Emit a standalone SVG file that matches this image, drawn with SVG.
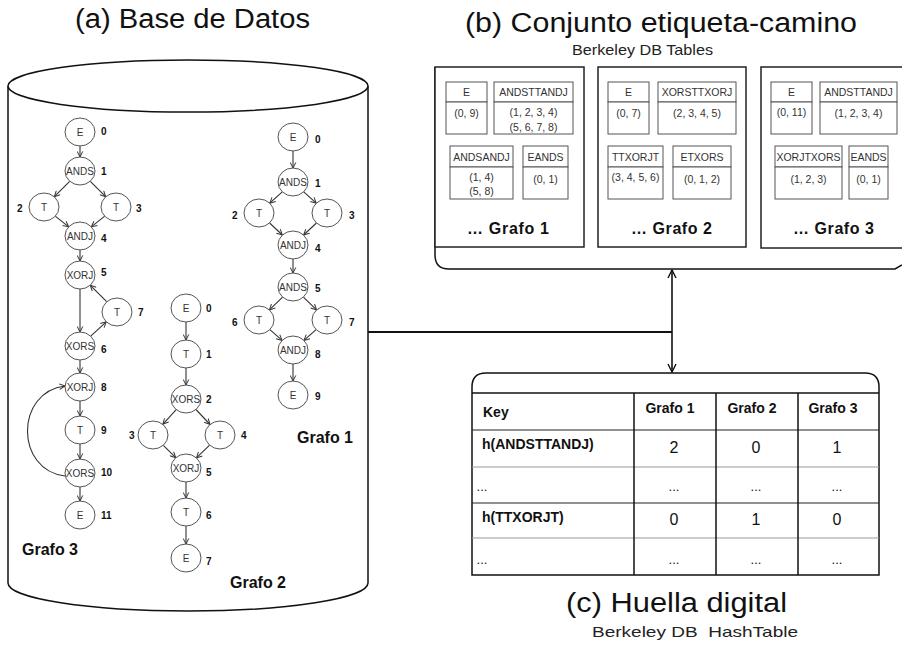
<svg xmlns="http://www.w3.org/2000/svg" width="902" height="646" viewBox="0 0 902 646">
<style>
text{font-family:"Liberation Sans",Arial,sans-serif;fill:#111}
.title{font-size:27px}
.sub{font-size:15px;fill:#222}
.nd ellipse{fill:#fff;stroke:#555;stroke-width:1}
.nd text{font-size:10px;fill:#333;text-anchor:middle;dominant-baseline:central}
.num{font-size:10px;font-weight:bold;dominant-baseline:central}
.gl{font-size:16px;font-weight:bold}
.e line,.e path{stroke:#333;stroke-width:1.1;fill:none;marker-end:url(#ah)}
.tb rect{fill:#fff;stroke:#555;stroke-width:1}
.tb text{font-size:10.5px;fill:#333;text-anchor:middle;dominant-baseline:central}
.box{fill:#fff;stroke:#222;stroke-width:1.5}
.ht{font-size:14px;font-weight:bold}
.hv{font-size:16px;text-anchor:middle;dominant-baseline:central}
.hd{font-size:13px;text-anchor:middle;dominant-baseline:central}
</style>
<defs>
<marker id="ah" viewBox="0 0 10 10" refX="9" refY="5" markerWidth="7" markerHeight="7" markerUnits="userSpaceOnUse" orient="auto"><path d="M1,1 L9,5 L1,9" fill="none" stroke="#333" stroke-width="1.4"/></marker>
<marker id="ah2" viewBox="0 0 10 10" refX="9" refY="5" markerWidth="10" markerHeight="10" markerUnits="userSpaceOnUse" orient="auto-start-reverse"><path d="M1,1 L9,5 L1,9" fill="none" stroke="#111" stroke-width="1.4"/></marker>
</defs>
<rect width="902" height="646" fill="#fff"/>

<!-- titles -->
<text class="title" x="75" y="28" textLength="235" lengthAdjust="spacingAndGlyphs">(a) Base de Datos</text>
<text class="title" x="465" y="32" textLength="392" lengthAdjust="spacingAndGlyphs">(b) Conjunto etiqueta-camino</text>
<text class="sub" x="572" y="55" textLength="141" lengthAdjust="spacingAndGlyphs">Berkeley DB Tables</text>
<text class="title" x="566" y="612" textLength="221" lengthAdjust="spacingAndGlyphs">(c) Huella digital</text>
<text class="sub" x="592" y="637" textLength="206" lengthAdjust="spacingAndGlyphs" xml:space="preserve">Berkeley DB  HashTable</text>

<!-- (a) cylinder -->
<g id="database">
<path d="M8,86 L8,583 A180,28 0 0 0 368,583 L368,86" fill="#fff" stroke="#111" stroke-width="1.5"/>
<ellipse cx="188" cy="86" rx="180" ry="26" fill="#fff" stroke="#111" stroke-width="1.5"/>
</g>

<!-- (b) tray and boxes -->
<g id="tables">
<path d="M435,67 V255 Q435,269 449,269 H895 L902,265" fill="none" stroke="#111" stroke-width="1.5"/>
<rect class="box" x="435" y="67" width="149" height="180"/>
<rect class="box" x="598" y="67" width="148" height="180"/>
<rect class="box" x="761" y="67" width="150" height="181"/>
</g>

<g id="g1-tables" class="tb">
<rect x="446" y="82" width="41" height="20"/><rect x="446" y="102" width="41" height="32"/>
<text x="466.5" y="92">E</text><text x="466.5" y="113">(0, 9)</text>
<rect x="494" y="82" width="79" height="20"/><rect x="494" y="102" width="79" height="32"/>
<text x="533.5" y="92">ANDSTTANDJ</text><text x="533.5" y="112">(1, 2, 3, 4)</text><text x="533.5" y="127">(5, 6, 7, 8)</text>
<rect x="450" y="146" width="63" height="21"/><rect x="450" y="167" width="63" height="32"/>
<text x="481.5" y="156.5">ANDSANDJ</text><text x="481.5" y="177">(1, 4)</text><text x="481.5" y="191">(5, 8)</text>
<rect x="523" y="146" width="45" height="21"/><rect x="523" y="167" width="45" height="32"/>
<text x="545.5" y="156.5">EANDS</text><text x="545.5" y="179">(0, 1)</text>
</g>
<text class="gl" x="467" y="234" textLength="82" lengthAdjust="spacing">… Grafo 1</text>

<g id="g2-tables" class="tb">
<rect x="608" y="82" width="41" height="20"/><rect x="608" y="102" width="41" height="32"/>
<text x="628.5" y="92">E</text><text x="628.5" y="113">(0, 7)</text>
<rect x="658" y="82" width="78" height="20"/><rect x="658" y="102" width="78" height="32"/>
<text x="697" y="92">XORSTTXORJ</text><text x="697" y="113">(2, 3, 4, 5)</text>
<rect x="608" y="146" width="55" height="21"/><rect x="608" y="167" width="55" height="32"/>
<text x="635.5" y="156.5">TTXORJT</text><text x="635.5" y="177">(3, 4, 5, 6)</text>
<rect x="673" y="146" width="58" height="21"/><rect x="673" y="167" width="58" height="32"/>
<text x="702" y="156.5">ETXORS</text><text x="702" y="179">(0, 1, 2)</text>
</g>
<text class="gl" x="631" y="234" textLength="81" lengthAdjust="spacing">… Grafo 2</text>

<g id="g3-tables" class="tb">
<rect x="771" y="82" width="41" height="20"/><rect x="771" y="102" width="41" height="32"/>
<text x="791.5" y="92">E</text><text x="791.5" y="112">(0, 11)</text>
<rect x="820" y="82" width="77" height="20"/><rect x="820" y="102" width="77" height="32"/>
<text x="858.5" y="92">ANDSTTANDJ</text><text x="858.5" y="113">(1, 2, 3, 4)</text>
<rect x="775" y="146" width="67" height="21"/><rect x="775" y="167" width="67" height="32"/>
<text x="808.5" y="156.5">XORJTXORS</text><text x="808.5" y="179">(1, 2, 3)</text>
<rect x="849" y="146" width="39" height="21"/><rect x="849" y="167" width="39" height="32"/>
<text x="868.5" y="156.5">EANDS</text><text x="868.5" y="179">(0, 1)</text>
</g>
<text class="gl" x="793" y="234" textLength="81" lengthAdjust="spacing">… Grafo 3</text>

<!-- (c) hash table -->
<g id="hashtable">
<path d="M472,575 V387 Q472,373 486,373 H865 Q879,373 879,387 V575 Z" fill="#fff" stroke="#111" stroke-width="1.5"/>
<line x1="472" y1="393" x2="879" y2="393" stroke="#111" stroke-width="1.5"/>
<line x1="472" y1="430" x2="879" y2="430" stroke="#222" stroke-width="1.2"/>
<line x1="472" y1="467" x2="879" y2="467" stroke="#999" stroke-width="1.2"/>
<line x1="472" y1="503" x2="879" y2="503" stroke="#222" stroke-width="1.2"/>
<line x1="472" y1="538" x2="879" y2="538" stroke="#999" stroke-width="1.2"/>
<line x1="634" y1="393" x2="634" y2="575" stroke="#111" stroke-width="1.5"/>
<line x1="716" y1="393" x2="716" y2="575" stroke="#111" stroke-width="1.5"/>
<line x1="798" y1="393" x2="798" y2="575" stroke="#111" stroke-width="1.5"/>
<text class="ht" x="483" y="412" dominant-baseline="central">Key</text>
<text class="ht" x="670" y="408" text-anchor="middle" dominant-baseline="central">Grafo 1</text>
<text class="ht" x="752" y="408" text-anchor="middle" dominant-baseline="central">Grafo 2</text>
<text class="ht" x="833" y="408" text-anchor="middle" dominant-baseline="central">Grafo 3</text>
<text class="ht" x="482" y="444" dominant-baseline="central">h(ANDSTTANDJ)</text>
<text class="hv" x="674" y="447">2</text><text class="hv" x="756" y="447">0</text><text class="hv" x="837" y="447">1</text>
<text class="hd" x="482" y="486" text-anchor="start">...</text>
<text class="hd" x="674" y="486">...</text><text class="hd" x="756" y="486">...</text><text class="hd" x="837" y="486">...</text>
<text class="ht" x="482" y="517" dominant-baseline="central">h(TTXORJT)</text>
<text class="hv" x="674" y="519">0</text><text class="hv" x="756" y="519">1</text><text class="hv" x="837" y="519">0</text>
<text class="hd" x="482" y="559" text-anchor="start">...</text>
<text class="hd" x="674" y="559">...</text><text class="hd" x="756" y="559">...</text><text class="hd" x="837" y="559">...</text>
</g>

<!-- connectors -->
<g id="connectors">
<line x1="368" y1="332" x2="672" y2="332" stroke="#111" stroke-width="2"/>
<line x1="672" y1="270" x2="672" y2="372" stroke="#111" stroke-width="1.6" marker-start="url(#ah2)" marker-end="url(#ah2)"/>
<g class="e">
<!-- grafo 3 -->
<line x1="80" y1="146" x2="80" y2="157"/>
<line x1="69.7" y1="181.3" x2="54.3" y2="196.7"/>
<line x1="90.3" y1="181.3" x2="105.7" y2="196.7"/>
<line x1="55.3" y1="216.1" x2="68.7" y2="226.9"/>
<line x1="104.7" y1="216.1" x2="91.3" y2="226.9"/>
<line x1="80" y1="250" x2="80" y2="261"/>
<line x1="80" y1="289" x2="80" y2="332"/>
<line x1="90.7" y1="336.2" x2="106.3" y2="321.8"/>
<line x1="106.7" y1="301.7" x2="90.3" y2="285.3"/>
<line x1="80" y1="360" x2="80" y2="373"/>
<line x1="80" y1="401" x2="80" y2="416"/>
<line x1="80" y1="444" x2="80" y2="459"/>
<line x1="80" y1="487" x2="80" y2="501"/>
<path d="M65,476 C15,470 15,392 65,386"/>
<!-- grafo 2 -->
<line x1="186" y1="322" x2="186" y2="340"/>
<line x1="186" y1="368" x2="186" y2="385"/>
<line x1="176.2" y1="409.7" x2="162.8" y2="424.3"/>
<line x1="196" y1="409.5" x2="210" y2="424.5"/>
<line x1="163.3" y1="445.3" x2="175.7" y2="457.7"/>
<line x1="209.6" y1="445.1" x2="196.4" y2="457.9"/>
<line x1="186" y1="482" x2="186" y2="498"/>
<line x1="186" y1="526" x2="186" y2="544"/>
<!-- grafo 1 -->
<line x1="293" y1="151" x2="293" y2="168"/>
<line x1="282.3" y1="191.8" x2="269.7" y2="203.2"/>
<line x1="303.7" y1="191.8" x2="316.3" y2="203.2"/>
<line x1="269.6" y1="223" x2="282.4" y2="235"/>
<line x1="316.4" y1="223" x2="303.6" y2="235"/>
<line x1="293" y1="259" x2="293" y2="273"/>
<line x1="282.6" y1="297.1" x2="269.4" y2="309.9"/>
<line x1="303.4" y1="297.1" x2="316.6" y2="309.9"/>
<line x1="269.9" y1="329.6" x2="282.1" y2="340.4"/>
<line x1="316.1" y1="329.6" x2="303.9" y2="340.4"/>
<line x1="293" y1="364" x2="293" y2="381"/>
</g>
</g>

<!-- grafo 3 nodes -->
<g id="g3-n0" class="nd"><ellipse cx="80" cy="132" rx="15" ry="14"/><text x="80" y="132">E</text></g>
<g id="g3-n1" class="nd"><ellipse cx="80" cy="171" rx="15" ry="14"/><text x="80" y="171">ANDS</text></g>
<g id="g3-n2" class="nd"><ellipse cx="44" cy="207" rx="15" ry="14"/><text x="44" y="207">T</text></g>
<g id="g3-n3" class="nd"><ellipse cx="116" cy="207" rx="15" ry="14"/><text x="116" y="207">T</text></g>
<g id="g3-n4" class="nd"><ellipse cx="80" cy="236" rx="15" ry="14"/><text x="80" y="236">ANDJ</text></g>
<g id="g3-n5" class="nd"><ellipse cx="80" cy="275" rx="15" ry="14"/><text x="80" y="275">XORJ</text></g>
<g id="g3-n7" class="nd"><ellipse cx="117" cy="312" rx="15" ry="14"/><text x="117" y="312">T</text></g>
<g id="g3-n6" class="nd"><ellipse cx="80" cy="346" rx="15" ry="14"/><text x="80" y="346">XORS</text></g>
<g id="g3-n8" class="nd"><ellipse cx="80" cy="387" rx="15" ry="14"/><text x="80" y="387">XORJ</text></g>
<g id="g3-n9" class="nd"><ellipse cx="80" cy="430" rx="15" ry="14"/><text x="80" y="430">T</text></g>
<g id="g3-n10" class="nd"><ellipse cx="80" cy="473" rx="15" ry="14"/><text x="80" y="473">XORS</text></g>
<g id="g3-n11" class="nd"><ellipse cx="80" cy="515" rx="15" ry="14"/><text x="80" y="515">E</text></g>
<g id="g3-labels">
<text class="num" x="101" y="131">0</text><text class="num" x="101" y="171">1</text>
<text class="num" x="17" y="208">2</text><text class="num" x="136" y="208">3</text>
<text class="num" x="101" y="238">4</text><text class="num" x="101" y="272">5</text>
<text class="num" x="101" y="349">6</text><text class="num" x="138" y="312">7</text>
<text class="num" x="101" y="387">8</text><text class="num" x="101" y="430">9</text>
<text class="num" x="101" y="472">10</text><text class="num" x="101" y="515">11</text>
<text class="gl" x="22" y="555">Grafo 3</text>
</g>

<!-- grafo 2 nodes -->
<g id="g2-n0" class="nd"><ellipse cx="186" cy="308" rx="15" ry="14"/><text x="186" y="308">E</text></g>
<g id="g2-n1" class="nd"><ellipse cx="186" cy="354" rx="15" ry="14"/><text x="186" y="354">T</text></g>
<g id="g2-n2" class="nd"><ellipse cx="186" cy="399" rx="15" ry="14"/><text x="186" y="399">XORS</text></g>
<g id="g2-n3" class="nd"><ellipse cx="153" cy="435" rx="15" ry="14"/><text x="153" y="435">T</text></g>
<g id="g2-n4" class="nd"><ellipse cx="220" cy="435" rx="15" ry="14"/><text x="220" y="435">T</text></g>
<g id="g2-n5" class="nd"><ellipse cx="186" cy="468" rx="15" ry="14"/><text x="186" y="468">XORJ</text></g>
<g id="g2-n6" class="nd"><ellipse cx="186" cy="512" rx="15" ry="14"/><text x="186" y="512">T</text></g>
<g id="g2-n7" class="nd"><ellipse cx="186" cy="558" rx="15" ry="14"/><text x="186" y="558">E</text></g>
<g id="g2-labels">
<text class="num" x="206" y="308">0</text><text class="num" x="206" y="354">1</text>
<text class="num" x="206" y="399">2</text><text class="num" x="129" y="435">3</text>
<text class="num" x="241" y="435">4</text><text class="num" x="206" y="472">5</text>
<text class="num" x="206" y="515">6</text><text class="num" x="206" y="561">7</text>
<text class="gl" x="230" y="588">Grafo 2</text>
</g>

<!-- grafo 1 nodes -->
<g id="g1-n0" class="nd"><ellipse cx="293" cy="137" rx="15" ry="14"/><text x="293" y="137">E</text></g>
<g id="g1-n1" class="nd"><ellipse cx="293" cy="182" rx="15" ry="14"/><text x="293" y="182">ANDS</text></g>
<g id="g1-n2" class="nd"><ellipse cx="259" cy="213" rx="15" ry="14"/><text x="259" y="213">T</text></g>
<g id="g1-n3" class="nd"><ellipse cx="327" cy="213" rx="15" ry="14"/><text x="327" y="213">T</text></g>
<g id="g1-n4" class="nd"><ellipse cx="293" cy="245" rx="15" ry="14"/><text x="293" y="245">ANDJ</text></g>
<g id="g1-n5" class="nd"><ellipse cx="293" cy="287" rx="15" ry="14"/><text x="293" y="287">ANDS</text></g>
<g id="g1-n6" class="nd"><ellipse cx="259" cy="320" rx="15" ry="14"/><text x="259" y="320">T</text></g>
<g id="g1-n7" class="nd"><ellipse cx="327" cy="320" rx="15" ry="14"/><text x="327" y="320">T</text></g>
<g id="g1-n8" class="nd"><ellipse cx="293" cy="350" rx="15" ry="14"/><text x="293" y="350">ANDJ</text></g>
<g id="g1-n9" class="nd"><ellipse cx="293" cy="395" rx="15" ry="14"/><text x="293" y="395">E</text></g>
<g id="g1-labels">
<text class="num" x="315" y="139">0</text><text class="num" x="315" y="183">1</text>
<text class="num" x="232" y="215">2</text><text class="num" x="349" y="215">3</text>
<text class="num" x="315" y="248">4</text><text class="num" x="315" y="288">5</text>
<text class="num" x="232" y="322">6</text><text class="num" x="349" y="322">7</text>
<text class="num" x="315" y="354">8</text><text class="num" x="315" y="396">9</text>
<text class="gl" x="297" y="443">Grafo 1</text>
</g>
</svg>
